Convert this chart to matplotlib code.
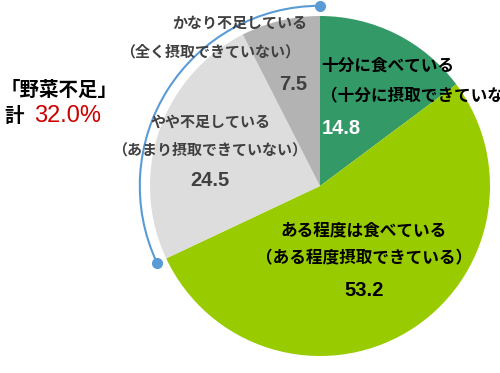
import numpy as np
import matplotlib
matplotlib.use("Agg")
import matplotlib.pyplot as plt
from matplotlib.patches import Arc

plt.rcParams['font.family'] = ['Noto Sans CJK JP', 'DejaVu Sans']

# data (clockwise from top)
categories = ['十分に食べている', 'ある程度は食べている', 'やや不足している', 'かなり不足している']
sub_labels = ['（十分に摂取できていない）', '（ある程度摂取できている）',
              '（あまり摂取できていない）', '（全く摂取できていない）']
values = [14.8, 53.2, 24.5, 7.5]
colors = ['#339966', '#99CC00', '#DDDDDD', '#B3B3B3']
shortage_label = '「野菜不足」'
shortage_total = 32.0

W, H = 500, 373
R = 170.0
cx, cy = 320, 186  # pie centre in pixels (top origin)

fig = plt.figure(figsize=(W / 100, H / 100), dpi=100)
ax = fig.add_axes([0, 0, 1, 1])

ax.pie(values, colors=colors, startangle=90, counterclock=False, radius=1.0,
       wedgeprops=dict(linewidth=0))
ax.set_xlim(-cx / R, (W - cx) / R)
ax.set_ylim(-(H - cy) / R, cy / R)
ax.set_aspect('equal')
ax.axis('off')


def px(x, y):
    return (x - cx) / R, (cy - y) / R


# blue bracket arc over the shortage slices
short_frac = (values[2] + values[3]) / sum(values)
a0, a1 = 90, 90 + 360 * short_frac
rb = 1.06
ax.add_patch(Arc((0, 0), 2 * rb, 2 * rb, theta1=a0, theta2=a1,
                 color='#5B9BD5', lw=1.5))
for a in (a0, a1):
    t = np.radians(a)
    ax.plot(rb * np.cos(t), rb * np.sin(t), 'o', color='#5B9BD5', ms=7)

dark = '#404040'
num_font = ['Liberation Sans', 'DejaVu Sans']

# 十分に食べている
ax.text(*px(321, 66), categories[0], fontsize=12, fontweight='bold',
        color='black', ha='left', va='center')
ax.text(*px(321, 96), sub_labels[0], fontsize=12, fontweight='bold',
        color='black', ha='left', va='center')
ax.text(*px(322, 128), f'{values[0]}', fontsize=14.5, fontweight='bold',
        family=num_font, color='white', ha='left', va='center')

# ある程度は食べている
ax.text(*px(364, 230), categories[1], fontsize=12, fontweight='bold',
        color='black', ha='center', va='center')
ax.text(*px(364, 258), sub_labels[1], fontsize=12, fontweight='bold',
        color='black', ha='center', va='center')
ax.text(*px(364, 290), f'{values[1]}', fontsize=14.5, fontweight='bold',
        family=num_font, color='black', ha='center', va='center')

# やや不足している
ax.text(*px(210, 122), categories[2], fontsize=10.8, fontweight='bold',
        color=dark, ha='center', va='center')
ax.text(*px(210, 150), sub_labels[2], fontsize=10.8, fontweight='bold',
        color=dark, ha='center', va='center')
ax.text(*px(210, 180), f'{values[2]}', fontsize=14.5, fontweight='bold',
        family=num_font, color=dark, ha='center', va='center')

# かなり不足している
ax.text(*px(307, 23), categories[3], fontsize=10.8, fontweight='bold',
        color=dark, ha='right', va='center')
ax.text(*px(300, 52), sub_labels[3], fontsize=10.8, fontweight='bold',
        color=dark, ha='right', va='center')
ax.text(*px(293, 84), f'{values[3]}', fontsize=14.5, fontweight='bold',
        family=num_font, color=dark, ha='center', va='center')

# 野菜不足 total
ax.text(*px(1, 90), shortage_label, fontsize=14, fontweight='bold',
        color='black', ha='left', va='center')
ax.text(*px(4, 116), '計', fontsize=14, fontweight='bold',
        color='black', ha='left', va='center')
ax.text(*px(34, 116), f'{shortage_total:.1f}%', fontsize=17,
        family=num_font, color='#CC0000', ha='left', va='center')

fig.savefig('out.png', dpi=100)
